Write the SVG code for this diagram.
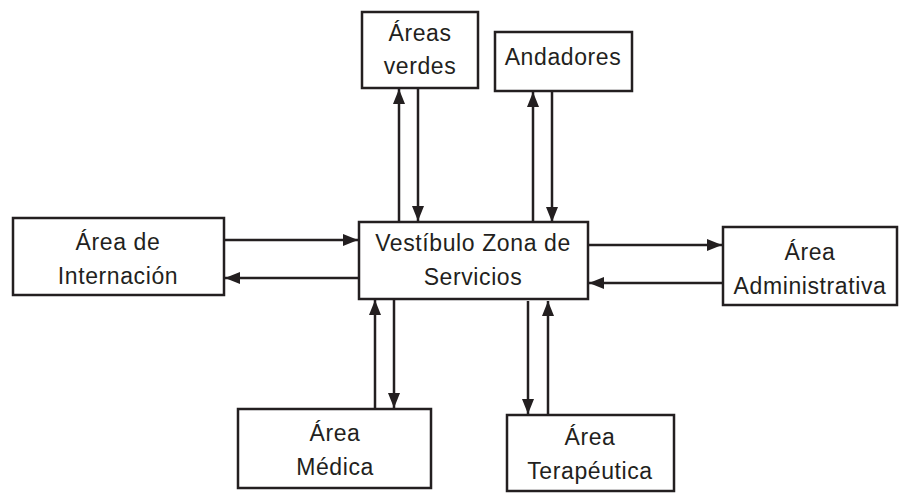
<svg xmlns="http://www.w3.org/2000/svg" width="899" height="495" viewBox="0 0 899 495">
<style>
.box{fill:#fff;stroke:#231f20;stroke-width:2.5}
.t{font-family:"Liberation Sans",Arial,sans-serif;font-size:23px;letter-spacing:0.6px;fill:#231f20;text-anchor:middle}
.c{stroke:#231f20;stroke-width:2.5;fill:none;marker-end:url(#ah)}
</style>
<defs>
<marker id="ah" viewBox="0 0 15 12" refX="15" refY="6" markerWidth="15" markerHeight="12" markerUnits="userSpaceOnUse" orient="auto">
<path d="M0,0 L15,6 L0,12 Z" fill="#231f20"/>
</marker>
</defs>
<rect width="899" height="495" fill="#fff"/>
<g id="connectors">
<line class="c" x1="399" y1="222" x2="399" y2="89"/>
<line class="c" x1="418" y1="89" x2="418" y2="221"/>
<line class="c" x1="533" y1="223" x2="533" y2="92"/>
<line class="c" x1="552" y1="92" x2="552" y2="222"/>
<line class="c" x1="225" y1="240" x2="358" y2="240"/>
<line class="c" x1="358" y1="278" x2="225" y2="278"/>
<line class="c" x1="589" y1="245" x2="722" y2="245"/>
<line class="c" x1="722" y1="283" x2="589" y2="283"/>
<line class="c" x1="375" y1="409" x2="375" y2="300"/>
<line class="c" x1="394" y1="300" x2="394" y2="408"/>
<line class="c" x1="528" y1="301" x2="528" y2="414"/>
<line class="c" x1="548" y1="415" x2="548" y2="301"/>
</g>
<g id="n-areas-verdes">
<rect class="box" x="362" y="12" width="116" height="76"/>
<text class="t" x="420" y="41">Áreas</text>
<text class="t" x="420" y="74">verdes</text>
</g>
<g id="n-andadores">
<rect class="box" x="495" y="32" width="137" height="59"/>
<text class="t" x="563" y="65">Andadores</text>
</g>
<g id="n-vestibulo">
<rect class="box" x="359" y="222" width="229" height="77"/>
<text class="t" x="473" y="251">Vestíbulo Zona de</text>
<text class="t" x="473" y="285">Servicios</text>
</g>
<g id="n-internacion">
<rect class="box" x="13" y="218" width="211" height="77"/>
<text class="t" x="118" y="250">Área de</text>
<text class="t" x="118" y="284">Internación</text>
</g>
<g id="n-administrativa">
<rect class="box" x="723" y="227" width="174" height="78"/>
<text class="t" x="810" y="260">Área</text>
<text class="t" x="810" y="294">Administrativa</text>
</g>
<g id="n-medica">
<rect class="box" x="238" y="409" width="193" height="79"/>
<text class="t" x="335" y="441">Área</text>
<text class="t" x="335" y="475">Médica</text>
</g>
<g id="n-terapeutica">
<rect class="box" x="507" y="415" width="167" height="76"/>
<text class="t" x="590" y="445">Área</text>
<text class="t" x="590" y="479">Terapéutica</text>
</g>
</svg>
